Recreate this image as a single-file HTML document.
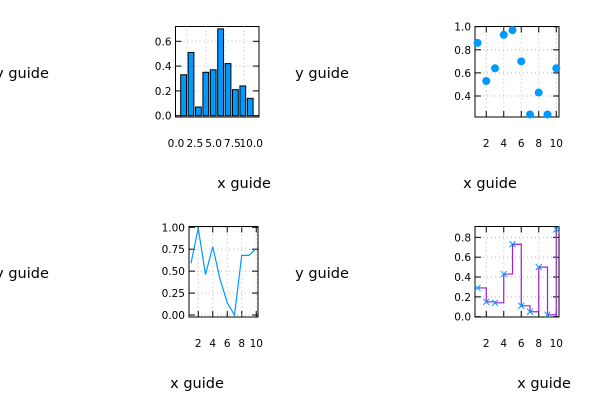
<!DOCTYPE html>
<html><head><meta charset="utf-8"><style>
body{margin:0;background:#fff;}
svg{display:block;font-family:"DejaVu Sans","Liberation Sans",sans-serif;}
</style></head><body>
<svg id="c" width="600" height="400" xmlns="http://www.w3.org/2000/svg"></svg>
<script>
const barValues=[0.33,0.51,0.07,0.35,0.37,0.70,0.42,0.21,0.24,0.14];
const barXTicks=["0.0","2.5","5.0","7.5","10.0"];
const barYTicks=[0,0.2,0.4,0.6];
const scatterX=[1,2,3,4,5,6,7,8,9,10];
const scatterY=[0.86,0.53,0.64,0.93,0.97,0.70,0.24,0.43,0.24,0.64];
const scatterYTicks=[0.4,0.6,0.8,1.0];
const lineX=[1,2,3,4,5,6,7,8,9,10];
const lineY=[0.59,0.99,0.46,0.78,0.41,0.14,0.0,0.68,0.68,0.76];
const lineYTicks=[0,0.25,0.5,0.75,1.0];
const stepX=[1,2,3,4,5,6,7,8,9,10];
const stepY=[0.29,0.15,0.14,0.43,0.73,0.11,0.05,0.50,0.02,0.88];
const stepYTicks=[0,0.2,0.4,0.6,0.8];
const intXTicks=[2,4,6,8,10];

const svg=document.getElementById('c');
const NS='http://www.w3.org/2000/svg';
function mk(tag,attrs,parent){const e=document.createElementNS(NS,tag);for(const k in attrs)e.setAttribute(k,attrs[k]);(parent||svg).appendChild(e);return e;}
function txt(x,y,s,anchor,size,parent){const t=mk('text',{x:x,y:y,'text-anchor':anchor,'font-size':size,fill:'#000'},parent);t.textContent=s;return t;}

function frame(name,L,R,T,B,xt,yt,sx,sy,yfmt){
  const g=mk('g',{});
  
  
  xt.forEach(v=>{const x=sx(v);mk('line',{x1:x,x2:x,y1:T,y2:B,stroke:'#bbb','stroke-dasharray':'1,3','stroke-width':1},g);
    mk('line',{x1:x,x2:x,y1:B,y2:B-6,stroke:'#000'},g);mk('line',{x1:x,x2:x,y1:T,y2:T+6,stroke:'#000'},g);});
  yt.forEach(v=>{const y=sy(v);mk('line',{x1:L,x2:R,y1:y,y2:y,stroke:'#bbb','stroke-dasharray':'1,3','stroke-width':1},g);
    mk('line',{x1:L,x2:L+6,y1:y,y2:y,stroke:'#000'},g);mk('line',{x1:R,x2:R-6,y1:y,y2:y,stroke:'#000'},g);
    const t=txt(L-4,y+4,yfmt(v),'end',10.5,g);});
  mk('rect',{x:L,y:T,width:R-L,height:B-T,fill:'none',stroke:'#000','stroke-width':1},g);
  return g;
}

(function(){
  const L=175.5,R=259,T=26.5,B=117;
  const sy=v=>115.7-v*124;
  const g=frame('bar-panel',L,R,T,B,[],barYTicks,null,sy,v=>v.toFixed(1));
  [187,206,225,244].forEach(x=>mk('line',{x1:x,x2:x,y1:T,y2:B,stroke:'#bbb','stroke-dasharray':'1,3'},g));
  barValues.forEach((v,i)=>{const x0=180.7+i*7.4;const b=mk('rect',{x:x0,y:sy(v),width:5.8,height:sy(0)-sy(v),fill:'#0099ff',stroke:'#000','stroke-width':1},g);
    });
  barXTicks.forEach((s,i)=>{const t=txt(176+i*18.8,147,s,'middle',10.5,g);});
})();

(function(){
  const L=475,R=559,T=26.5,B=117;
  const sx=v=>477.5+(v-1)*8.75, sy=v=>26.7+(1-v)*115.5;
  const g=frame('scatter-panel',L,R,T,B,intXTicks,scatterYTicks,sx,sy,v=>v.toFixed(1));
  intXTicks.forEach(v=>{const t=txt(sx(v),147,String(v),'middle',10.5,g);});
  scatterX.forEach((x,i)=>{const c=mk('circle',{cx:sx(x),cy:sy(scatterY[i]),r:4,fill:'#0099ff'},g);});
})();

(function(){
  const L=189,R=258,T=226.5,B=317;
  const sx=v=>191+(v-1)*7.25, sy=v=>315-v*87.7;
  const g=frame('line-panel',L,R,T,B,intXTicks,lineYTicks,sx,sy,v=>v.toFixed(2));
  intXTicks.forEach(v=>{const t=txt(sx(v),347,String(v),'middle',10.5,g);});
  const p=mk('polyline',{points:lineX.map((x,i)=>sx(x)+','+sy(lineY[i])).join(' '),fill:'none',stroke:'#0099ff','stroke-width':1.2},g);
  
})();

(function(){
  const L=475,R=559,T=226.5,B=317;
  const sx=v=>477.5+(v-1)*8.75, sy=v=>316.7-v*99.2;
  const g=frame('step-panel',L,R,T,B,intXTicks,stepYTicks,sx,sy,v=>v.toFixed(1));
  intXTicks.forEach(v=>{const t=txt(sx(v),347,String(v),'middle',10.5,g);});
  let pts=[];
  stepX.forEach((x,i)=>{pts.push(sx(x)+','+sy(stepY[i]));if(i<stepX.length-1)pts.push(sx(stepX[i+1])+','+sy(stepY[i]));});
  const p=mk('polyline',{points:pts.join(' '),fill:'none',stroke:'#9b1fe0','stroke-width':1.2},g);
  
  stepX.forEach((x,i)=>{const cx=sx(x),cy=sy(stepY[i]);const m=mk('path',{d:`M${cx-3},${cy-3}L${cx+3},${cy+3}M${cx-3},${cy+3}L${cx+3},${cy-3}`,stroke:'#0099ff','stroke-width':1},g);
    });
})();

[[22,78,'y guide','y-axis-title'],[322,78,'y guide','y-axis-title'],[244,188,'x guide','x-axis-title'],[490,188,'x guide','x-axis-title'],
 [22,278,'y guide','y-axis-title'],[322,278,'y guide','y-axis-title'],[197,388,'x guide','x-axis-title'],[544,388,'x guide','x-axis-title']].forEach(a=>{
  const t=txt(a[0],a[1],a[2],'middle',14.5);
  
  
});
</script>
</body></html>
